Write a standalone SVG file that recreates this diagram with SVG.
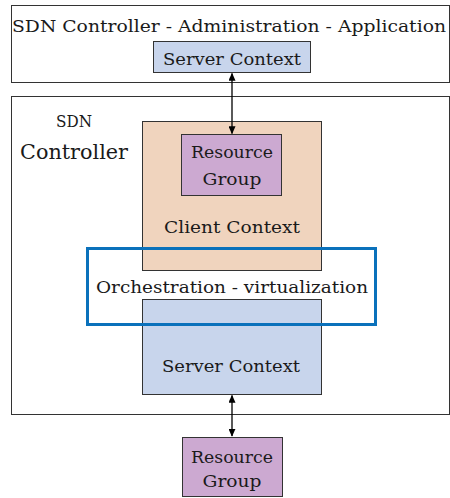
<svg xmlns="http://www.w3.org/2000/svg" width="450" height="498" viewBox="0 0 450 498" font-family="'DejaVu Serif', 'Liberation Serif', serif">
<style>
text{font-family:'DejaVu Serif','Liberation Serif',serif;fill:#1a1a1a;text-anchor:middle}
.frame{fill:#fff;stroke:#333;stroke-width:1}
.box{stroke:#333;stroke-width:1}
.blue{fill:#c8d5ec}
.peach{fill:#f0d4be}
.purple{fill:#cca9d1}
.conn{stroke:#000;stroke-width:1.3;fill:none}
</style>
<defs>
<marker id="ah" viewBox="0 0 10 10" refX="9" refY="5" markerWidth="8" markerHeight="7" orient="auto-start-reverse" markerUnits="userSpaceOnUse" preserveAspectRatio="none">
<path d="M0,0 L10,5 L0,10 z" fill="#000"/>
</marker>
</defs>
<g id="app">
<rect class="frame" x="11.5" y="5.5" width="438" height="77"/>
<text x="229" y="32" font-size="17" textLength="434" lengthAdjust="spacingAndGlyphs">SDN Controller - Administration - Application</text>
</g>
<g id="app-server">
<rect class="box blue" x="153.5" y="41.5" width="157" height="31"/>
<text x="232" y="65" font-size="17" textLength="138" lengthAdjust="spacingAndGlyphs">Server Context</text>
</g>
<g id="controller">
<rect class="frame" x="11.5" y="96.5" width="438" height="318"/>
<text x="74" y="127" font-size="16" textLength="36" lengthAdjust="spacingAndGlyphs">SDN</text>
<text x="74" y="159" font-size="20.5" textLength="108" lengthAdjust="spacingAndGlyphs">Controller</text>
</g>
<g id="client">
<rect class="box peach" x="142.5" y="121.5" width="179" height="149"/>
<text x="232" y="233" font-size="17" textLength="136" lengthAdjust="spacingAndGlyphs">Client Context</text>
</g>
<g id="rg-top">
<rect class="box purple" x="181.5" y="134.5" width="100" height="61"/>
<text x="232" y="158" font-size="17" textLength="82" lengthAdjust="spacingAndGlyphs">Resource</text>
<text x="232" y="185" font-size="17" textLength="59" lengthAdjust="spacingAndGlyphs">Group</text>
</g>
<g id="server">
<rect class="box blue" x="142.5" y="299.5" width="179" height="95"/>
<text x="231" y="372" font-size="17" textLength="138" lengthAdjust="spacingAndGlyphs">Server Context</text>
</g>
<g id="orchestration">
<rect x="87.5" y="248.5" width="288" height="76" fill="none" stroke="#0a71bb" stroke-width="3"/>
<text x="232" y="293" font-size="17" textLength="272" lengthAdjust="spacingAndGlyphs">Orchestration - virtualization</text>
</g>
<g id="rg-bottom">
<rect class="box purple" x="182.5" y="437.5" width="100" height="59"/>
<text x="232" y="463" font-size="17" textLength="82" lengthAdjust="spacingAndGlyphs">Resource</text>
<text x="232" y="487" font-size="17" textLength="59" lengthAdjust="spacingAndGlyphs">Group</text>
</g>
<g id="connectors">
<line class="conn" x1="232" y1="73.5" x2="232" y2="133.5" marker-start="url(#ah)" marker-end="url(#ah)"/>
<line class="conn" x1="232" y1="395.5" x2="232" y2="436" marker-start="url(#ah)" marker-end="url(#ah)"/>
</g>
</svg>
